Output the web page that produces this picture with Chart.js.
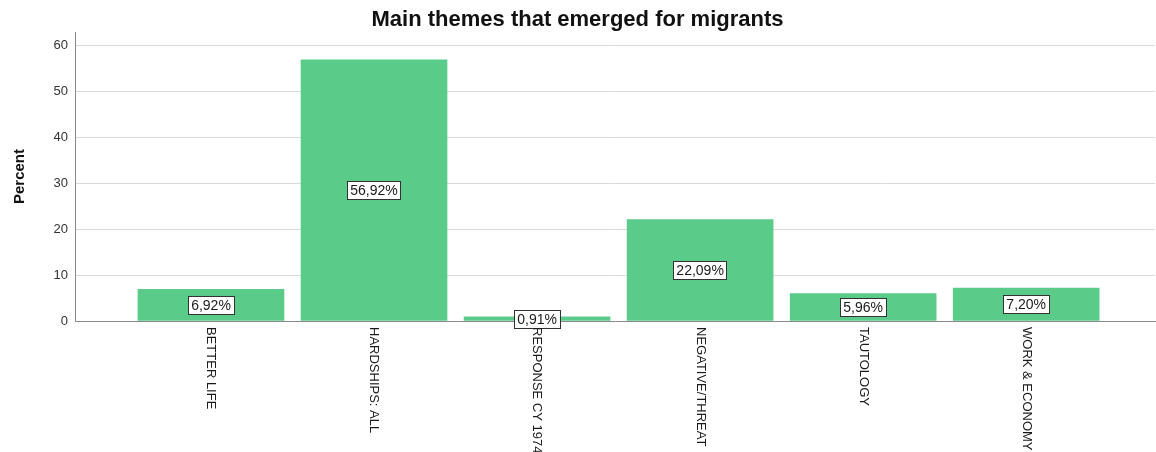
<!DOCTYPE html>
<html lang="en">
<head>
    <meta charset="UTF-8">
    <script src="https://cdn.jsdelivr.net/npm/chart.js@4"></script>
    <title>Main themes that emerged for migrants</title>
    <style type="text/css">
        body { margin: 0; background: #fff; }
    </style>
</head>
<body>
    <canvas id="themeCanvas" width="1156" height="452"></canvas>
<script>

// themes and their share of responses (percent)
const themes = ["BETTER LIFE", "HARDSHIPS: ALL", "RESPONSE CY 1974", "NEGATIVE/THREAT", "TAUTOLOGY", "WORK & ECONOMY"];
const percents = [6.92, 56.92, 0.91, 22.09, 5.96, 7.20];
const yTicks = [0, 10, 20, 30, 40, 50, 60];

const barColor = "#5bcb8a";
const fontFamily = "'Liberation Sans', Arial, sans-serif";

function pct(v) {
    return v.toFixed(2).replace('.', ',') + '%';
}

// rotated category names under the axis + boxed value labels in the middle of each bar
const labelPlugin = {
    id: 'themeLabels',
    afterDatasetsDraw(chart) {
        const ctx = chart.ctx;
        const meta = chart.getDatasetMeta(0);
        ctx.save();
        ctx.font = "14px " + fontFamily;
        ctx.textAlign = 'center';
        ctx.textBaseline = 'middle';
        meta.data.forEach((bar, i) => {
            const txt = pct(percents[i]);
            const w = ctx.measureText(txt).width + 6;
            const h = 18;
            const cx = bar.x;
            const cy = (bar.y + bar.base) / 2;
            ctx.fillStyle = '#fff';
            ctx.fillRect(Math.round(cx - w / 2) + 0.5, Math.round(cy - h / 2) + 0.5, Math.round(w), h);
            ctx.strokeStyle = '#333';
            ctx.lineWidth = 1;
            ctx.strokeRect(Math.round(cx - w / 2) + 0.5, Math.round(cy - h / 2) + 0.5, Math.round(w), h);
            ctx.fillStyle = '#1a1a1a';
            ctx.fillText(txt, cx, cy + 1);
        });
        ctx.restore();
    },
    afterDraw(chart) {
        const ctx = chart.ctx;
        const xs = chart.scales.x;
        ctx.save();
        ctx.font = "13px " + fontFamily;
        ctx.fillStyle = '#1a1a1a';
        ctx.textAlign = 'left';
        ctx.textBaseline = 'middle';
        themes.forEach((name, i) => {
            ctx.save();
            ctx.translate(xs.getPixelForValue(i), chart.chartArea.bottom + 6);
            ctx.rotate(Math.PI / 2);
            ctx.fillText(name, 0, 0);
            ctx.restore();
        });
        ctx.restore();
    }
};

const chart = new Chart(document.getElementById('themeCanvas'), {
    type: 'bar',
    data: {
        datasets: [{
            data: themes.map((t, i) => ({x: i, y: percents[i]})),
            backgroundColor: barColor,
            borderWidth: 0,
            barThickness: 146
        }]
    },
    options: {
        responsive: false,
        animation: false,
        devicePixelRatio: 1,
        layout: {padding: {left: 0, right: 1, top: 0, bottom: 0}},
        plugins: {
            legend: {display: false},
            tooltip: {enabled: false},
            title: {
                display: true,
                text: 'Main themes that emerged for migrants',
                color: '#111',
                font: {family: fontFamily, size: 22, weight: 'bold', lineHeight: 1},
                padding: {top: 9, bottom: 1}
            }
        },
        scales: {
            x: {
                type: 'linear',
                offset: false,
                min: -0.834,
                max: 5.79,
                ticks: {display: false},
                grid: {display: true, drawOnChartArea: false, drawTicks: false},
                border: {color: '#8a8a8a', width: 1},
                afterFit: s => { s.height = 131; }
            },
            y: {
                min: 0,
                max: 63,
                ticks: {
                    stepSize: 10,
                    padding: 7,
                    color: '#333',
                    font: {family: fontFamily, size: 13}
                },
                afterBuildTicks: s => { s.ticks = yTicks.map(v => ({value: v})); },
                grid: {color: '#dadada', drawTicks: false},
                border: {color: '#8a8a8a', width: 1},
                title: {
                    display: true,
                    text: 'Percent',
                    color: '#111',
                    font: {family: fontFamily, size: 15, weight: 'bold'},
                    padding: {top: 11, bottom: 0}
                },
                afterFit: s => { s.width = 75; }
            }
        }
    },
    plugins: [labelPlugin]
});

</script>
</body>
</html>
